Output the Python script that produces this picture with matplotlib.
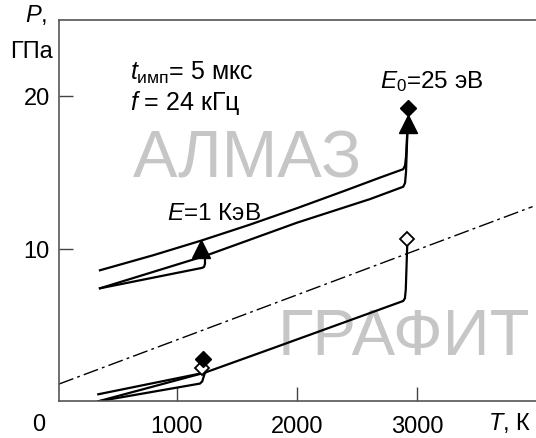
import matplotlib
matplotlib.use("Agg")
import matplotlib.pyplot as plt

plt.rcParams['font.family'] = ['Liberation Sans', 'DejaVu Sans']
plt.rcParams['mathtext.fontset'] = 'custom'
plt.rcParams['mathtext.rm'] = 'Liberation Sans'
plt.rcParams['mathtext.it'] = 'Liberation Sans:italic'

# --- алмаз: три ветви ---
almaz_top_T = [359, 800, 1200, 1600, 2000, 2400, 2700, 2883, 2898, 2906, 2920]
almaz_top_P = [8.58, 9.56, 10.52, 11.55, 12.65, 13.80, 14.68, 15.20, 15.45, 16.0, 18.15]
almaz_mid_T = [359, 1233, 1441, 2000, 2606, 2883, 2898, 2906, 2920]
almaz_mid_P = [7.40, 9.52, 10.11, 11.70, 13.24, 14.05, 14.3, 15.0, 18.15]
almaz_low_T = [359, 1210, 1225, 1233, 1233]
almaz_low_P = [7.40, 8.74, 8.80, 9.0, 9.52]

# --- графит ---
grafit_top_T = [345, 1233]
grafit_top_P = [0.46, 1.88]
grafit_mid_T = [345, 1233, 1774, 2883, 2897, 2904, 2918]
grafit_mid_P = [0.0, 1.88, 3.41, 6.57, 6.75, 7.3, 10.62]
grafit_low_T = [345, 1191, 1210, 1233]
grafit_low_P = [0.0, 1.16, 1.3, 1.88]

# граница (штрихпунктир)
border_T = [18, 3960]
border_P = [1.13, 12.75]

# маркеры
tri_T = [1204, 2920]
tri_P = [9.96, 18.15]
dfill_T = [2920, 1214]
dfill_P = [19.2, 2.75]
dopen_T = [1206, 2912]
dopen_P = [2.16, 10.62]

W, H = 536, 439
fig = plt.figure(figsize=(W / 100, H / 100), dpi=100)
ax = fig.add_axes([59 / W, 1 - 402.3 / H, 1 - 59 / W, (402.3 - 21) / H])
ax.set_xlim(18, 3988)
ax.set_ylim(0, 24.97)

# фоновые надписи
ax.text(634, 14.74, 'АЛМАЗ', fontsize=48, color='#c6c6c6', va='baseline', ha='left', zorder=0)
ax.text(1841, 3.08, 'ГРАФИТ', fontsize=47, color='#c6c6c6', va='baseline', ha='left', zorder=0)

lw = 1.6
for T, P in [(almaz_top_T, almaz_top_P), (almaz_mid_T, almaz_mid_P), (almaz_low_T, almaz_low_P),
             (grafit_top_T, grafit_top_P), (grafit_mid_T, grafit_mid_P), (grafit_low_T, grafit_low_P)]:
    ax.plot(T, P, color='black', lw=lw, solid_joinstyle='round', zorder=2)

ax.plot(border_T, border_P, color='black', lw=1.0, linestyle=(0, (11, 3, 2, 3)), zorder=2)

ax.plot(dopen_T, dopen_P, 'D', ms=7.5, mfc='white', mec='black', mew=1.3, ls='none', zorder=3)
ax.plot(tri_T, tri_P, '^', ms=13, color='black', ls='none', zorder=4)
ax.plot(dfill_T, dfill_P, 'D', ms=8.5, color='black', ls='none', zorder=4)

# подписи
ax.text(610, 21.1, r'$t_{\mathrm{имп}}$= 5 мкс', fontsize=18, va='baseline')
ax.text(610, 19.13, r'$f$ = 24 кГц', fontsize=18, va='baseline')
ax.text(914, 11.93, r'$E$=1 КэВ', fontsize=17.5, va='baseline')
ax.text(2690, 20.56, r'$E_0$=25 эВ', fontsize=17.5, va='baseline')

for s in ['top', 'left', 'bottom']:
    ax.spines[s].set_color('#555555')
    ax.spines[s].set_linewidth(1.2)
ax.spines['right'].set_visible(False)

ax.set_xticks([1000, 2000, 3000])
ax.set_yticks([10, 20])
ax.tick_params(direction='in', length=10, width=1, color='#444444', labelsize=17)
ax.tick_params(axis='x', pad=10)
ax.tick_params(axis='y', pad=6.5)

fig.text(39 / W, 1 - 425 / H, '0', fontsize=17, ha='center', va='center')
fig.text(488 / W, 1 - 423 / H, r'$T$, К', fontsize=17, ha='left', va='center')
fig.text(25 / W, 1 - 15 / H, r'$P$,', fontsize=17, ha='left', va='center')
fig.text(10 / W, 1 - 52 / H, 'ГПа', fontsize=17, ha='left', va='center')

fig.savefig('out.png', dpi=100)
